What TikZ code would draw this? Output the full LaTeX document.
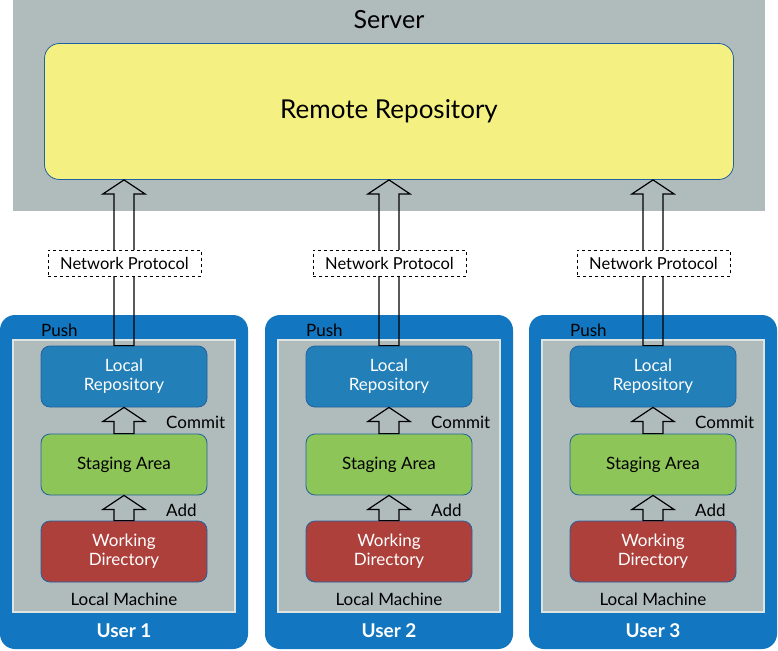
\documentclass[tikz,border=0pt]{standalone}
\usepackage{fontspec}
\setmainfont{Lato}
\usetikzlibrary{calc}
\definecolor{servergray}{RGB}{176,187,187}
\definecolor{remoteyellow}{RGB}{245,240,130}
\definecolor{userblue}{RGB}{18,119,192}
\definecolor{repoblue}{RGB}{35,127,183}
\definecolor{stagegreen}{RGB}{141,197,88}
\definecolor{workred}{RGB}{174,64,60}
\definecolor{edgeblue}{RGB}{32,98,160}
\definecolor{innerrim}{RGB}{220,228,228}
\tikzset{
  stage box/.style={
      draw=edgeblue,
      line width=0.8pt,
      rounded corners=9pt,
      minimum width=166pt,
      minimum height=61pt,
      inner sep=0pt,
      align=center,
      font=\fontsize{17}{19}\selectfont
      },
  hollow arrow/.style={
      line width=1.2pt,
      to path={let \p1=(\tikztostart), \p2=(\tikztotarget) in
        (\x1-10pt,\y1) -- (\x1-10pt,\y2-14pt) -- (\x1-21pt,\y2-14pt) -- (\x1,\y2)
        -- (\x1+21pt,\y2-14pt) -- (\x1+10pt,\y2-14pt) -- (\x1+10pt,\y1) -- cycle}
      },
  label text/.style={font=\fontsize{17}{19}\selectfont, inner sep=0pt}
}

\begin{document}
\begin{tikzpicture}[x=1pt,y=-1pt]
\useasboundingbox (0,0) rectangle (778,650);
\fill [servergray] (13,0) rectangle (765,211);
\node [font=\fontsize{25}{28}\selectfont] (server) at (389,20) {Server};
\node [draw=edgeblue, line width=0.8pt, fill=remoteyellow, rounded corners=15pt,
       minimum width=689pt, minimum height=136pt, font=\fontsize{26}{30}\selectfont]
       (remote) at (389,111.5) {Remote Repository};
\foreach \i/\cx in {1/124,2/389,3/653} {
  \node [fill=userblue, rounded corners=15pt, minimum width=248pt, minimum height=334pt] (user\i) at (\cx,482) {};
  \node [fill=servergray, draw=innerrim, line width=1.5pt, minimum width=222pt, minimum height=272pt] (machine\i) at (\cx,476) {};
  \node [stage box, fill=repoblue, text=white] (lr\i) at (\cx,376.5) {Local\\Repository};
  \node [stage box, fill=stagegreen] (st\i) at (\cx,464.5) {Staging Area};
  \node [stage box, fill=workred, text=white] (wd\i) at (\cx,551.5) {Working\\Directory};
  \node [label text, anchor=west] (push\i) at (\cx-83,330) {Push};
  \node [label text, anchor=west] (commit\i) at (\cx+42,422) {Commit};
  \node [label text, anchor=west] (add\i) at (\cx+42,510) {Add};
  \node [label text] (lm\i) at (\cx,599) {Local Machine};
  \node [font=\fontsize{19}{22}\selectfont\bfseries, text=white] (name\i) at (\cx,631) {User \i};
  \draw [hollow arrow] (wd\i.north) to (st\i.south);
  \draw [hollow arrow] (st\i.north) to (lr\i.south);
  \draw [hollow arrow] (lr\i.north) to (lr\i.north |- remote.south);
  \node [draw, dashed, fill=white, line width=1pt, minimum width=153pt, minimum height=26pt,
         inner sep=0pt, font=\fontsize{16.5}{18}\selectfont] (np\i) at (\cx+0.5,263) {Network Protocol};
}
\end{tikzpicture}
\end{document}
